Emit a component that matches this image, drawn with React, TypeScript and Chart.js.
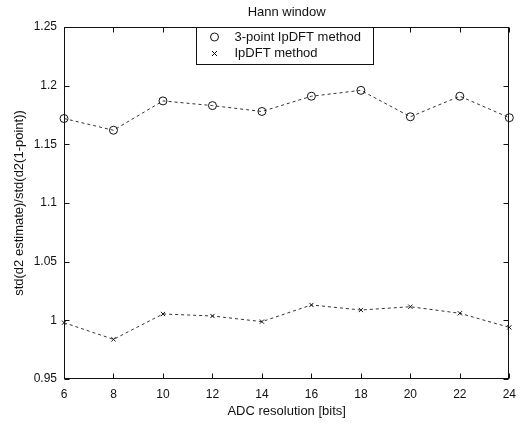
import React, { useEffect, useRef } from 'react';
import { Chart, registerables } from 'chart.js';

Chart.register(...registerables);

const bits = [6, 8, 10, 12, 14, 16, 18, 20, 22, 24];
const threePointIpDFT = [1.172, 1.162, 1.187, 1.183, 1.178, 1.191, 1.196, 1.1735, 1.191, 1.1727];
const ipDFT = [0.998, 0.9838, 1.0054, 1.0037, 0.9989, 1.0131, 1.0088, 1.0116, 1.006, 0.994];
const seriesNames = ['3-point IpDFT method', 'IpDFT method'];
const yTickLabels = ['0.95', '1', '1.05', '1.1', '1.15', '1.2', '1.25'];
const chartTitle = 'Hann window';
const xTitle = 'ADC resolution [bits]';
const yTitle = 'std(d2 estimate)/std(d2(1-point))';

const FONT = '"Liberation Sans", Arial, Helvetica, sans-serif';
const INK = '#111';
const LINE = '#333';

const framePlugin = {
  id: 'matlabFrame',
  afterDatasetsDraw(chart: any) {
    const { ctx, chartArea: a, scales } = chart;
    const L = Math.round(a.left) + 0.5;
    const R = Math.round(a.right) - 0.5;
    const T = Math.round(a.top) + 0.5;
    const B = Math.round(a.bottom) - 0.5;
    ctx.save();
    ctx.strokeStyle = INK;
    ctx.lineWidth = 1;
    ctx.setLineDash([]);
    ctx.strokeRect(L, T, R - L, B - T);
    const tl = 5;
    ctx.beginPath();
    scales.x.ticks.forEach((t: any) => {
      const px = Math.round(scales.x.getPixelForValue(t.value)) + 0.5;
      ctx.moveTo(px, B);
      ctx.lineTo(px, B - tl);
      ctx.moveTo(px, T);
      ctx.lineTo(px, T + tl);
    });
    scales.y.ticks.forEach((t: any) => {
      const py = Math.round(scales.y.getPixelForValue(t.value)) + 0.5;
      ctx.moveTo(L, py);
      ctx.lineTo(L + tl, py);
      ctx.moveTo(R, py);
      ctx.lineTo(R - tl, py);
    });
    ctx.stroke();

    // title
    ctx.fillStyle = INK;
    ctx.font = `13px ${FONT}`;
    ctx.textAlign = 'center';
    ctx.textBaseline = 'middle';
    ctx.fillText(chartTitle, (a.left + a.right) / 2, 12);

    // legend box
    const bw = 177;
    const bh = 37;
    const bx = Math.round((a.left + a.right) / 2 - 91) + 0.5;
    const by = T;
    ctx.fillStyle = '#fff';
    ctx.fillRect(bx, by, bw, bh);
    ctx.strokeStyle = INK;
    ctx.strokeRect(bx, by, bw, bh);
    const mx = bx + 18;
    const rows = [by + 9.5, by + 26];
    // circle marker
    ctx.beginPath();
    ctx.arc(mx, rows[0], 4, 0, Math.PI * 2);
    ctx.strokeStyle = INK;
    ctx.stroke();
    // cross marker
    const c = 2.5;
    ctx.beginPath();
    ctx.moveTo(mx - c, rows[1] - c);
    ctx.lineTo(mx + c, rows[1] + c);
    ctx.moveTo(mx + c, rows[1] - c);
    ctx.lineTo(mx - c, rows[1] + c);
    ctx.stroke();
    ctx.fillStyle = INK;
    ctx.textAlign = 'left';
    ctx.font = `13px ${FONT}`;
    ctx.fillText(seriesNames[0], bx + 38, rows[0]);
    ctx.fillText(seriesNames[1], bx + 38, rows[1]);
    ctx.restore();
  },
};

export default function App() {
  const ref = useRef<HTMLCanvasElement | null>(null);
  useEffect(() => {
    if (!ref.current) return;
    Chart.defaults.font.family = FONT;
    Chart.defaults.color = INK;
    const chart = new Chart(ref.current, {
      type: 'line',
      data: {
        datasets: [
          {
            label: seriesNames[0],
            data: bits.map((b, i) => ({ x: b, y: threePointIpDFT[i] })),
            borderColor: LINE,
            borderWidth: 1,
            borderDash: [3, 3],
            pointStyle: 'circle',
            pointRadius: 4,
            pointBorderWidth: 1,
            pointBorderColor: INK,
            pointBackgroundColor: 'rgba(0,0,0,0)',
            clip: false as any,
            tension: 0,
          },
          {
            label: seriesNames[1],
            data: bits.map((b, i) => ({ x: b, y: ipDFT[i] })),
            borderColor: LINE,
            borderWidth: 1,
            borderDash: [3, 3],
            pointStyle: 'crossRot',
            pointRadius: 3,
            pointBorderWidth: 1,
            pointBorderColor: INK,
            pointBackgroundColor: 'rgba(0,0,0,0)',
            clip: false as any,
            tension: 0,
          },
        ],
      },
      options: {
        responsive: false,
        animation: false,
        devicePixelRatio: 1,
        layout: { padding: { top: 27, right: 11, left: 0, bottom: 0 } },
        plugins: {
          legend: { display: false },
          title: { display: false },
          tooltip: { enabled: false },
        },
        scales: {
          x: {
            type: 'linear',
            min: bits[0],
            max: bits[bits.length - 1],
            grid: { display: false, drawTicks: false, tickLength: 0 },
            border: { display: false },
            ticks: {
              stepSize: 2,
              padding: 8,
              maxRotation: 0,
              autoSkip: false,
              font: { size: 12, family: FONT },
              color: INK,
            },
            title: {
              display: true,
              text: xTitle,
              font: { size: 13, family: FONT },
              color: INK,
              padding: { top: 0, bottom: 8 },
            },
            afterFit: (s: any) => {
              s.height = 48;
            },
          },
          y: {
            type: 'linear',
            min: 0.95,
            max: 1.25,
            grid: { display: false, drawTicks: false, tickLength: 0 },
            border: { display: false },
            ticks: {
              stepSize: 0.05,
              padding: 7,
              autoSkip: false,
              font: { size: 12, family: FONT },
              color: INK,
              callback: (_v: any, i: number) => yTickLabels[i],
            },
            title: {
              display: true,
              text: yTitle,
              font: { size: 13, family: FONT },
              color: INK,
              padding: { top: 12, bottom: 0 },
            },
            afterFit: (s: any) => {
              s.width = 64;
            },
          },
        },
      },
      plugins: [framePlugin],
    });
    return () => chart.destroy();
  }, []);
  return (
    <div style={{ position: 'absolute', left: 0, top: 0, width: 524, height: 427, background: '#fff' }}>
      <canvas ref={ref} width={524} height={427} />
    </div>
  );
}
